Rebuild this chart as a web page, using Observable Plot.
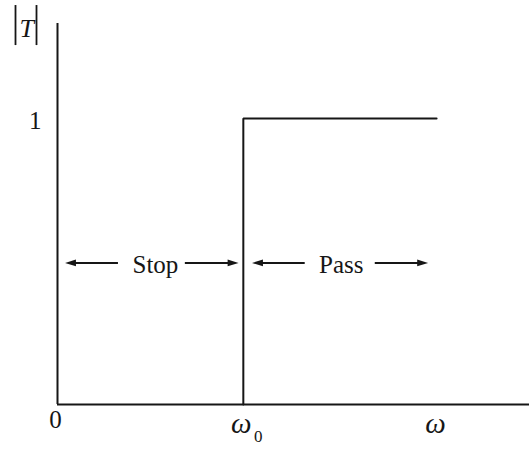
<!DOCTYPE html>
<html>
<head>
<meta charset="utf-8">
<script src="https://cdn.jsdelivr.net/npm/d3@7"></script>
<script src="https://cdn.jsdelivr.net/npm/@observablehq/plot@0.6"></script>
<style>
  html, body { margin: 0; padding: 0; background: #fff; }
  #chart svg { display: block; }
</style>
</head>
<body>
<div id="chart"></div>
<script>
// Ideal high-pass magnitude response |T(ω)|
const omegaSamples = [1, 1, 2.04];      // ω (in units of ω0)
const magnitudeSamples = [0, 1, 1];     // |T|
const yTicks = [1];
const yTickLabels = ["1"];
const bandNames = ["Stop", "Pass"];
const bandCenters = [0.527, 1.527];
// each band's arrows: [start, end] along ω, drawn at half height
const bandArrows = [[0.328, 0.07], [0.688, 0.945], [1.333, 1.076], [1.71, 1.965]];
const arrowLevel = 0.495;
const axisTopT = 1.332;
const axisEndOmega = 2.54;

const ink = "#161616";
const response = omegaSamples.map((w, i) => ({w, T: magnitudeSamples[i]}));
const arrows = bandArrows.map(([a, b]) => ({a, b, y: arrowLevel, dir: b > a ? 0 : 180}));

// filled, slightly elongated arrowhead pointing along +x
const head = {
  draw(ctx, size) {
    const s = Math.sqrt(size) / 2;
    ctx.moveTo(s * 1.4, 0);
    ctx.lineTo(-s * 1.4, -s * 0.85);
    ctx.lineTo(-s * 1.4, s * 0.85);
    ctx.closePath();
  }
};

const serif = "'Liberation Serif', 'Times New Roman', serif";

const chart = Plot.plot({
  width: 529,
  height: 449,
  margin: 0,
  style: {fontFamily: serif, background: "#fff", color: ink},
  x: {domain: [0, axisEndOmega], range: [57, 529], axis: null},
  y: {domain: [0, 1], range: [404, 118], axis: null},
  marks: [
    // axes
    Plot.ruleX([0], {y1: 0, y2: axisTopT, stroke: ink, strokeWidth: 2}),
    Plot.ruleY([0], {x1: 0, x2: axisEndOmega, stroke: ink, strokeWidth: 2}),
    // response
    Plot.line(response, {x: "w", y: "T", stroke: ink, strokeWidth: 2, strokeLinejoin: "miter"}),
    // band arrows
    Plot.ruleY(arrows, {y: "y", x1: "a", x2: "b", stroke: ink, strokeWidth: 2}),
    Plot.dot(arrows, {x: "b", y: "y", symbol: head, r: 4.4, fill: ink, stroke: "none", rotate: "dir"}),
    Plot.text(bandNames, {x: (d, i) => bandCenters[i], y: arrowLevel, text: d => d, dy: 2, fontSize: 25, fill: ink}),
    // y tick label
    Plot.text(yTicks, {x: 0, y: d => d, text: (d, i) => yTickLabels[i], textAnchor: "end", dx: -16, dy: 2, fontSize: 25, fill: ink}),
    // x labels
    Plot.text([0], {x: 0, y: 0, text: () => "0", dx: -2, dy: 15, fontSize: 25, fill: ink}),
    Plot.text([1], {x: d => d, y: 0, text: () => "ω", dx: -2, dy: 19, fontSize: 29, fontStyle: "italic", fill: ink}),
    Plot.text([1], {x: d => d, y: 0, text: () => "0", dx: 15, dy: 32, fontSize: 17, fill: ink}),
    Plot.text([2.04], {x: d => d, y: 0, text: () => "ω", dx: -1, dy: 19, fontSize: 29, fontStyle: "italic", fill: ink}),
    // |T| label
    Plot.ruleX([-0.226, -0.113], {x: d => d, y1: 1.255, y2: 1.395, stroke: ink, strokeWidth: 1.8}),
    Plot.text([1.33], {x: -0.165, y: d => d, text: () => "T", dy: 5, fontSize: 26, fontStyle: "italic", fill: ink})
  ]
});

document.getElementById("chart").append(chart);
</script>
</body>
</html>
